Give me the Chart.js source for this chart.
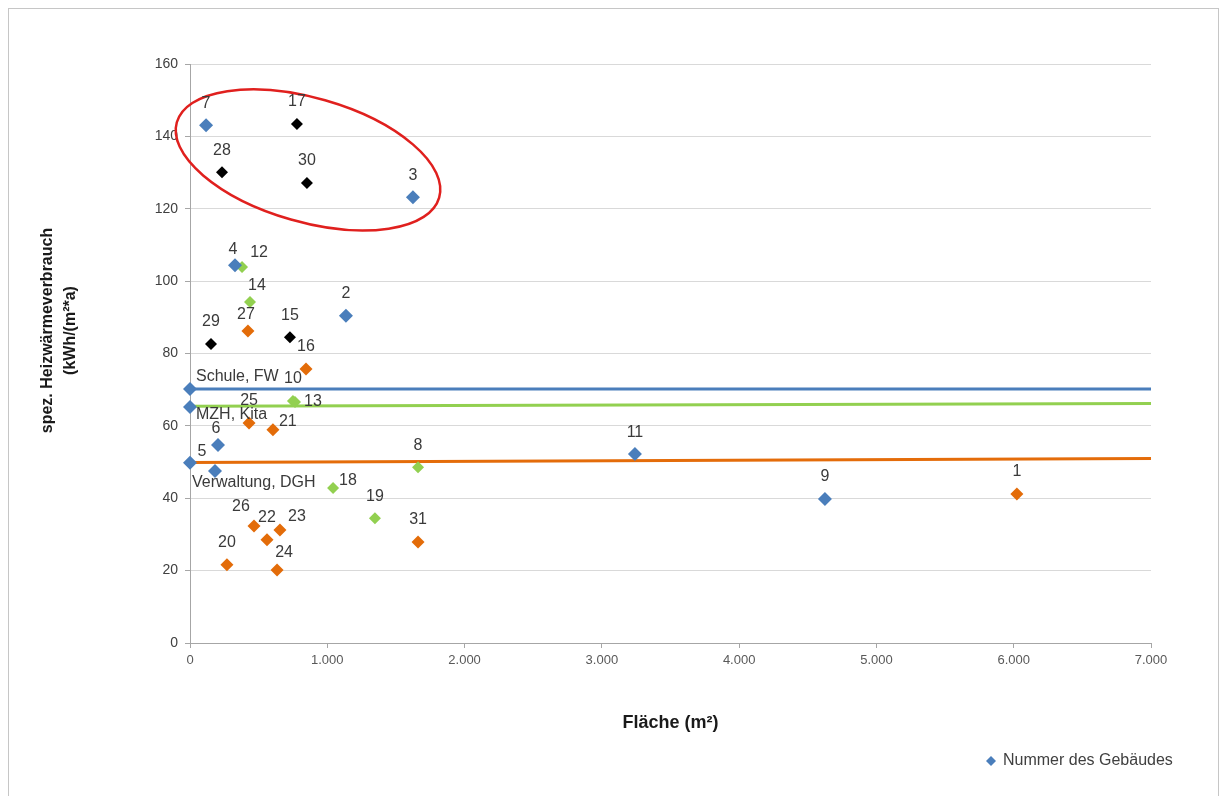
<!DOCTYPE html>
<html>
<head>
<meta charset="utf-8">
<script src="https://cdn.jsdelivr.net/npm/chart.js@4.4.1/dist/chart.umd.min.js"></script>
<style>
  body { margin: 0; background: #fff; }
  #wrap { position: relative; width: 1227px; height: 796px; overflow: hidden; }
  #frame { position: absolute; left: 8px; top: 8px; width: 1209px; height: 800px; border: 1px solid #c6c6c6; pointer-events: none; }
</style>
</head>
<body>
<div id="wrap">
  <canvas id="mycanvas" width="1227" height="796"></canvas>
  <div id="frame"></div>
</div>
<script>
// Gebäude nach Farbe (Excel-Reihen)
const blueNames = ['7', '3', '4', '2', '6', '5', '11', '9', 'Schule, FW', 'MZH, Kita', 'Verwaltung, DGH'];
const blueX = [117, 1624, 328, 1136, 204, 182, 3241, 4625, 0, 0, 0];
const blueY = [143.1, 123.2, 104.4, 90.4, 54.7, 47.5, 52.2, 39.8, 70.2, 65.2, 49.8];

const blackNames = ['17', '28', '30', '29', '15'];
const blackX = [779, 233, 852, 153, 728];
const blackY = [143.4, 130.1, 127.1, 82.6, 84.5];

const greenNames = ['12', '14', '10', '13', '8', '18', '19'];
const greenX = [379, 437, 750, 765, 1661, 1042, 1347];
const greenY = [103.9, 94.2, 66.9, 66.6, 48.6, 42.8, 34.5];

const orangeNames = ['27', '16', '25', '21', '26', '22', '23', '24', '20', '31', '1'];
const orangeX = [422, 845, 430, 604, 466, 561, 655, 634, 269, 1661, 6023];
const orangeY = [86.2, 75.7, 60.8, 58.9, 32.3, 28.5, 31.2, 20.2, 21.6, 27.9, 41.2];

// Mittelwert-Linien
const lineX = [0, 7000];
const schuleY = [70.2, 70.2];
const mzhY = [65.4, 66.2];
const verwY = [49.9, 51.0];

const xTicks = [0, 1000, 2000, 3000, 4000, 5000, 6000, 7000];
const yTicks = [0, 20, 40, 60, 80, 100, 120, 140, 160];

// where the label sits relative to its point
const bluePos = ['top', 'top', 'topNear', 'top', 'topNear', 'topLeft', 'top', 'top', 'tagAbove', 'tagBelow', 'tagLow'];
const blackPos = ['top', 'top', 'top', 'top', 'top'];
const greenPos = ['topRight', 'topR', 'top', 'right', 'top', 'rightUp', 'top'];
const orangePos = ['topNear', 'top', 'top', 'rightUp', 'topLeft', 'top', 'topRight', 'topR', 'top', 'top', 'top'];

const labelModes = {
  top: [0, -22, 'center'],
  topNear: [-2, -16, 'center'],
  topR: [7, -17, 'center'],
  topRight: [17, -14, 'center'],
  topLeft: [-13, -20, 'center'],
  right: [9, 0, 'left'],
  rightUp: [6, -8, 'left'],
  tagAbove: [6, -12, 'left'],
  tagBelow: [6, 8, 'left'],
  tagLow: [2, 20, 'left']
};

// red ellipse: ends of the long axis (data units), half width in px
const ellipseEnds = [[-96, 143.9], [1815, 123.1]];
const ellipseHalf = 62;

const FONT = '"Liberation Sans", Arial, sans-serif';

function pts(xs, ys) {
  return xs.map((x, i) => ({ x: x, y: ys[i] }));
}

function xLbl(v) {
  return String(v).replace(/\B(?=(\d{3})+(?!\d))/g, '.');
}

const labelPlugin = {
  id: 'pointLabels',
  afterDatasetsDraw(chart) {
    const ctx = chart.ctx;
    ctx.save();
    ctx.font = '16px ' + FONT;
    ctx.fillStyle = '#3a3a3a';
    ctx.textBaseline = 'middle';
    chart.data.datasets.forEach((ds, i) => {
      if (!ds.names) return;
      chart.getDatasetMeta(i).data.forEach((pt, j) => {
        const m = labelModes[ds.labelPos[j]];
        ctx.textAlign = m[2];
        ctx.fillText(ds.names[j], pt.x + m[0], pt.y + m[1]);
      });
    });
    ctx.restore();
  }
};

const ellipsePlugin = {
  id: 'ellipse',
  afterDatasetsDraw(chart) {
    const xs = chart.scales.x, ys = chart.scales.y, ctx = chart.ctx;
    const x1 = xs.getPixelForValue(ellipseEnds[0][0]), y1 = ys.getPixelForValue(ellipseEnds[0][1]);
    const x2 = xs.getPixelForValue(ellipseEnds[1][0]), y2 = ys.getPixelForValue(ellipseEnds[1][1]);
    const a = Math.hypot(x2 - x1, y2 - y1) / 2;
    ctx.save();
    ctx.strokeStyle = '#e0201e';
    ctx.lineWidth = 2.5;
    ctx.beginPath();
    ctx.ellipse((x1 + x2) / 2, (y1 + y2) / 2, a, ellipseHalf, Math.atan2(y2 - y1, x2 - x1), 0, Math.PI * 2);
    ctx.stroke();
    ctx.restore();
  }
};

const extrasPlugin = {
  id: 'extras',
  afterDraw(chart) {
    const ctx = chart.ctx, area = chart.chartArea;
    ctx.save();
    // y axis title
    ctx.fillStyle = '#1a1a1a';
    ctx.font = 'bold 16px ' + FONT;
    ctx.textAlign = 'center';
    ctx.textBaseline = 'middle';
    ctx.translate(48, (area.top + area.bottom) / 2 - 23);
    ctx.rotate(-Math.PI / 2);
    ctx.fillText('spez. Heizwärmeverbrauch', 0, 0);
    ctx.fillText('(kWh/(m²*a)', 0, 23);
    ctx.restore();

    // legend
    ctx.save();
    ctx.fillStyle = '#4a7ebb';
    ctx.beginPath();
    ctx.moveTo(991, 756); ctx.lineTo(996, 761); ctx.lineTo(991, 766); ctx.lineTo(986, 761);
    ctx.closePath();
    ctx.fill();
    ctx.fillStyle = '#404040';
    ctx.font = '16px ' + FONT;
    ctx.textBaseline = 'middle';
    ctx.fillText('Nummer des Gebäudes', 1003, 761);
    ctx.restore();
  }
};

const config = {
  type: 'scatter',
  data: {
    datasets: [
      { label: 'Nummer des Gebäudes', data: pts(blueX, blueY), names: blueNames, labelPos: bluePos, clip: false,
        backgroundColor: '#4a7ebb', borderColor: '#4a7ebb', pointStyle: 'rectRot', pointRadius: 7, borderWidth: 0 },
      { label: 'schwarz', data: pts(blackX, blackY), names: blackNames, labelPos: blackPos, clip: false,
        backgroundColor: '#000000', borderColor: '#000000', pointStyle: 'rectRot', pointRadius: 6, borderWidth: 0 },
      { label: 'grün', data: pts(greenX, greenY), names: greenNames, labelPos: greenPos, clip: false,
        backgroundColor: '#92d050', borderColor: '#92d050', pointStyle: 'rectRot', pointRadius: 6, borderWidth: 0 },
      { label: 'orange', data: pts(orangeX, orangeY), names: orangeNames, labelPos: orangePos, clip: false,
        backgroundColor: '#e36c09', borderColor: '#e36c09', pointStyle: 'rectRot', pointRadius: 6.5, borderWidth: 0 },
      { label: 'Schule, FW', data: pts(lineX, schuleY), showLine: true, pointRadius: 0, borderColor: '#4a7ebb', borderWidth: 3 },
      { label: 'MZH, Kita', data: pts(lineX, mzhY), showLine: true, pointRadius: 0, borderColor: '#92d050', borderWidth: 3 },
      { label: 'Verwaltung, DGH', data: pts(lineX, verwY), showLine: true, pointRadius: 0, borderColor: '#e46c0a', borderWidth: 3 }
    ]
  },
  options: {
    responsive: false,
    animation: false,
    events: [],
    layout: { padding: { left: 0, top: 64, right: 76, bottom: 53 } },
    plugins: {
      legend: { display: false },
      tooltip: { enabled: false }
    },
    scales: {
      x: {
        type: 'linear',
        min: 0, max: 7000,
        afterBuildTicks: s => { s.ticks = xTicks.map(v => ({ value: v })); },
        afterFit: s => { s.height = 100; },
        ticks: { callback: v => xLbl(v), color: '#595959', font: { family: FONT, size: 13 }, padding: 5 },
        grid: { drawOnChartArea: false, drawTicks: true, tickLength: 5, color: '#a6a6a6' },
        border: { color: '#a6a6a6' },
        title: { display: true, text: 'Fläche (m²)', color: '#1a1a1a', font: { family: FONT, size: 18, weight: 'bold' }, padding: { top: 0, bottom: 9 } }
      },
      y: {
        min: 0, max: 160,
        afterBuildTicks: s => { s.ticks = yTicks.map(v => ({ value: v })); },
        afterFit: s => { s.width = 190; },
        ticks: { color: '#404040', font: { family: FONT, size: 14 }, padding: 7 },
        grid: { color: '#d9d9d9', tickLength: 5, tickColor: '#a6a6a6' },
        border: { color: '#a6a6a6' }
      }
    }
  },
  plugins: [ellipsePlugin, labelPlugin, extrasPlugin]
};

const ctx = document.getElementById('mycanvas');
const myChart = new Chart(ctx, config);
</script>
</body>
</html>
